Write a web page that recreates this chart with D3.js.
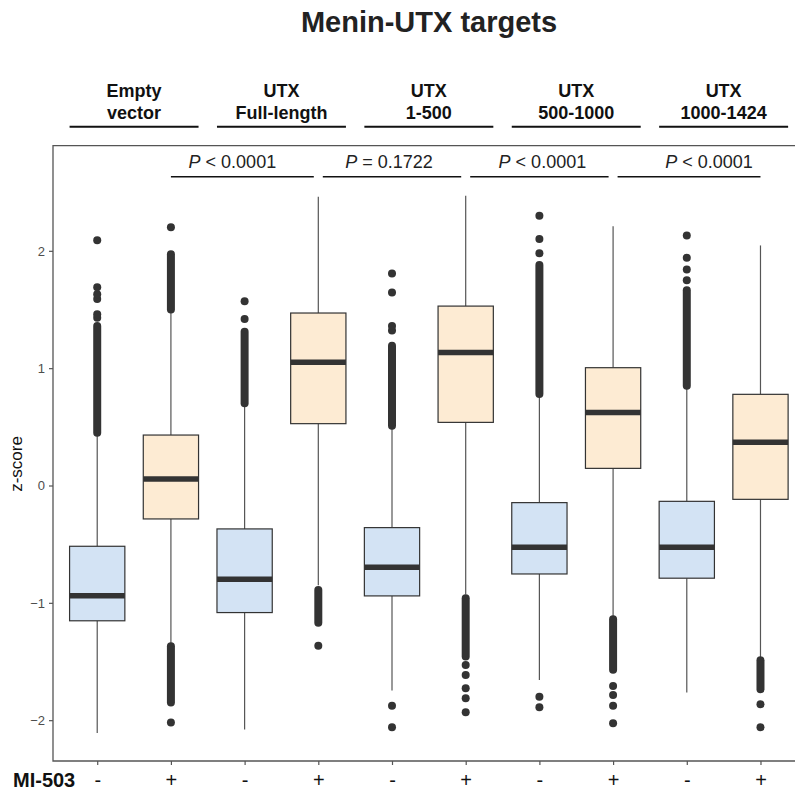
<!DOCTYPE html>
<html>
<head>
<meta charset="utf-8">
<script src="https://cdn.jsdelivr.net/npm/d3@7"></script>
<style>
  body { margin: 0; background: #fff; }
  svg { display: block; font-family: "Liberation Sans", Arial, sans-serif; }
</style>
</head>
<body>
<svg id="chart"></svg>
<script>
// ---- data ----
const groupLine1 = ['Empty', 'UTX', 'UTX', 'UTX', 'UTX'];
const groupLine2 = ['vector', 'Full-length', '1-500', '500-1000', '1000-1424'];
const treatment = ['-', '+', '-', '+', '-', '+', '-', '+', '-', '+'];

// box stats per condition (z-score)
const whiskerLo = [-2.11, -1.345, -2.08, -0.85, -1.748, -0.93, -1.657, -1.117, -1.765, -1.472];
const q1        = [-1.153, -0.285, -1.083, 0.527, -0.941, 0.538, -0.754, 0.146, -0.79, -0.118];
const median    = [-0.939, 0.055, -0.80, 1.05, -0.697, 1.134, -0.526, 0.623, -0.526, 0.368];
const q3        = [-0.518, 0.43, -0.37, 1.47, -0.359, 1.529, -0.146, 1.004, -0.135, 0.777];
const whiskerHi = [0.43, 1.47, 0.68, 2.46, 0.487, 2.47, 0.757, 2.21, 0.828, 2.046];

// dense stacks of outliers, as [low, high] spans
const outlierRuns = [
  [[0.45, 1.36]],
  [[1.50, 1.97], [-1.85, -1.37]],
  [[0.70, 1.31]],
  [[-1.17, -0.89]],
  [[0.51, 1.19]],
  [[-1.458, -0.961]],
  [[0.78, 1.88]],
  [[-1.57, -1.14]],
  [[0.85, 1.665]],
  [[-1.736, -1.49]]
];
// single outliers
const outlierPoints = [
  [1.43, 1.46, 1.59, 1.63, 1.69, 2.09],
  [2.20, -2.02],
  [1.42, 1.57],
  [-1.365],
  [1.32, 1.36, 1.645, 1.807, -1.878, -2.06],
  [-1.53, -1.614, -1.727, -1.813, -1.932],
  [1.98, 2.10, 2.30, -1.80, -1.89],
  [-1.708, -1.785, -1.878, -2.026],
  [1.75, 1.84, 1.94, 2.13],
  [-1.864, -2.06]
];

// comparisons: pairs of "+" conditions
const comparisons = [[1, 3], [3, 5], [5, 7], [7, 9]];
const pSign = ['<', '=', '<', '<'];
const pValue = ['0.0001', '0.1722', '0.0001', '0.0001'];

const yTicks = [-2, -1, 0, 1, 2];

// ---- layout ----
const W = 795, H = 795;
const panel = { left: 53, right: 804.7, top: 145.7, bottom: 761 };
const blue = '#d3e3f4', orange = '#fdebd3', dark = '#333333', axisGrey = '#555555';

const svg = d3.select('#chart').attr('width', W).attr('height', H);

const x = d3.scalePoint()
  .domain(d3.range(treatment.length))
  .range([panel.left, panel.right])
  .padding(0.6);
const boxW = x.step() * 0.75;

const y = d3.scaleLinear()
  .domain([-2.348, 2.896])
  .range([panel.bottom, panel.top]);

// title
svg.append('text')
  .attr('x', 429).attr('y', 32)
  .attr('text-anchor', 'middle')
  .attr('font-size', 29).attr('font-weight', 'bold')
  .attr('fill', '#222')
  .text('Menin-UTX targets');

// group headers with underlines
const headers = svg.append('g');
groupLine1.forEach((l1, g) => {
  const a = x(g * 2), b = x(g * 2 + 1);
  const cx = (a + b) / 2;
  const t = headers.append('text')
    .attr('text-anchor', 'middle')
    .attr('font-size', 18).attr('font-weight', 'bold')
    .attr('fill', '#111');
  t.append('tspan').attr('x', cx).attr('y', 96.5).text(l1);
  t.append('tspan').attr('x', cx).attr('y', 119.3).text(groupLine2[g]);
  headers.append('line')
    .attr('x1', a - boxW / 2).attr('x2', b + boxW / 2)
    .attr('y1', 126.7).attr('y2', 126.7)
    .attr('stroke', '#111').attr('stroke-width', 2);
});

// panel frame: top, left, bottom
const frame = svg.append('g').attr('stroke', axisGrey).attr('stroke-width', 1.3).attr('fill', 'none');
frame.append('path')
  .attr('d', `M${panel.right},${panel.top}H${panel.left}V${panel.bottom}H${panel.right}`);

// y axis
const yAxisG = svg.append('g')
  .attr('transform', `translate(${panel.left},0)`)
  .call(d3.axisLeft(y).tickValues(yTicks).tickSize(4).tickPadding(4)
    .tickFormat(d => d < 0 ? '\u2212' + Math.abs(d) : d));
yAxisG.select('.domain').remove();
yAxisG.selectAll('.tick line').attr('stroke', axisGrey).attr('stroke-width', 1.2);
yAxisG.selectAll('.tick text')
  .attr('font-size', 13).attr('fill', '#4d4d4d')
  .attr('font-family', '"Liberation Sans", Arial, sans-serif');

svg.append('text')
  .attr('transform', `translate(21.5,464) rotate(-90)`)
  .attr('text-anchor', 'middle')
  .attr('font-size', 17).attr('fill', '#111')
  .text('z-score');

// x axis
const xAxisG = svg.append('g')
  .attr('transform', `translate(0,${panel.bottom})`)
  .call(d3.axisBottom(x).tickSize(4).tickPadding(8).tickFormat(i => treatment[i]));
xAxisG.select('.domain').remove();
xAxisG.selectAll('.tick line').attr('stroke', axisGrey).attr('stroke-width', 1.2);
xAxisG.selectAll('.tick text')
  .attr('font-size', 20).attr('fill', '#111')
  .attr('font-family', '"Liberation Sans", Arial, sans-serif');

svg.append('text')
  .attr('x', 13).attr('y', 786.5)
  .attr('font-size', 20).attr('font-weight', 'bold').attr('fill', '#111')
  .text('MI-503');

// boxes
const plot = svg.append('g');
treatment.forEach((tr, i) => {
  const cx = x(i);
  const g = plot.append('g');
  // whiskers
  g.append('line').attr('x1', cx).attr('x2', cx)
    .attr('y1', y(q3[i])).attr('y2', y(whiskerHi[i]))
    .attr('stroke', axisGrey).attr('stroke-width', 1.2);
  g.append('line').attr('x1', cx).attr('x2', cx)
    .attr('y1', y(q1[i])).attr('y2', y(whiskerLo[i]))
    .attr('stroke', axisGrey).attr('stroke-width', 1.2);
  // outlier stacks
  outlierRuns[i].forEach(([lo, hi]) => {
    g.append('line').attr('x1', cx).attr('x2', cx)
      .attr('y1', y(lo)).attr('y2', y(hi))
      .attr('stroke', dark).attr('stroke-width', 8)
      .attr('stroke-linecap', 'round');
  });
  g.selectAll('circle.out')
    .data(outlierPoints[i])
    .join('circle')
      .attr('class', 'out')
      .attr('cx', cx).attr('cy', d => y(d))
      .attr('r', 4).attr('fill', dark);
  // box
  g.append('rect')
    .attr('x', cx - boxW / 2).attr('width', boxW)
    .attr('y', y(q3[i])).attr('height', y(q1[i]) - y(q3[i]))
    .attr('fill', tr === '+' ? orange : blue)
    .attr('stroke', dark).attr('stroke-width', 1.2);
  g.append('line')
    .attr('x1', cx - boxW / 2).attr('x2', cx + boxW / 2)
    .attr('y1', y(median[i])).attr('y2', y(median[i]))
    .attr('stroke', dark).attr('stroke-width', 5.5);
});

// p-value brackets
const pNudge = [-10, -3, 3, 20];
const gap = 4.5;
const pg = svg.append('g');
comparisons.forEach(([a, b], k) => {
  const x1 = x(a) + (k > 0 ? gap : 0);
  const x2 = x(b) - (k < comparisons.length - 1 ? gap : 0);
  pg.append('line')
    .attr('x1', x1).attr('x2', x2)
    .attr('y1', 176.7).attr('y2', 176.7)
    .attr('stroke', '#111').attr('stroke-width', 1.4);
  const t = pg.append('text')
    .attr('x', (x1 + x2) / 2 + pNudge[k]).attr('y', 168.3)
    .attr('text-anchor', 'middle')
    .attr('font-size', 18).attr('fill', '#222');
  t.append('tspan').attr('font-style', 'italic').text('P');
  t.append('tspan').text(` ${pSign[k]} ${pValue[k]}`);
});
</script>
</body>
</html>
